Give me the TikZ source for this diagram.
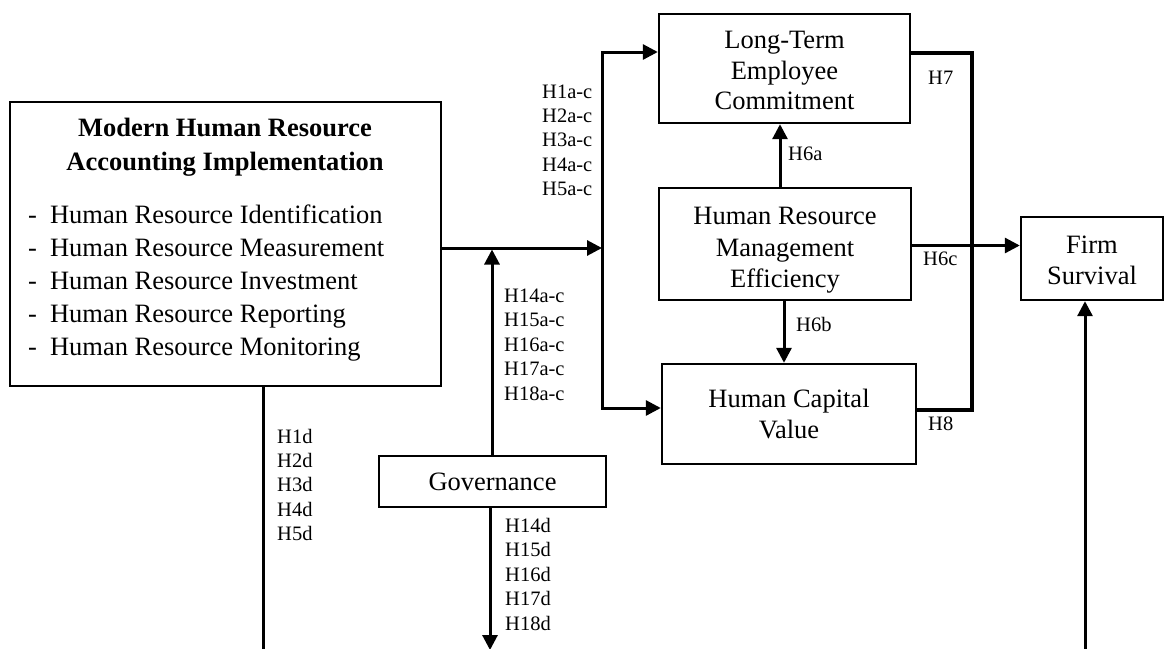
\documentclass[tikz,border=0pt]{standalone}
\usepackage{fontspec}
\setmainfont{Liberation Serif}
\usetikzlibrary{arrows.meta}
\begin{document}
\begin{tikzpicture}[x=1pt,y=-1pt,
  box/.style={draw, line width=2.4pt, inner sep=0pt, align=center,
    font=\fontsize{26.5}{31.5}\selectfont},
  conn/.style={line width=3pt},
  arr/.style={conn, -{Triangle[length=15pt,width=15pt]}},
  hlab/.style={anchor=west, inner sep=0pt, font=\fontsize{20.5}{24}\selectfont,
    text height=0.66em, text depth=0pt},
]
\useasboundingbox (0,0) rectangle (1164,648);

% ---- boxes ----
\node[box, minimum width=431pt, minimum height=284pt] (mhra) at (225.5,244) {};
\node[inner sep=0pt, align=center, font=\fontsize{26.5}{34}\selectfont\bfseries]
  (mhratitle) at (225,147.5) {Modern Human Resource\\Accounting Implementation};
\node[inner sep=0pt, anchor=west, font=\fontsize{26.5}{33}\selectfont]
  (mhralist) at (28,282.5) {%
  \begin{tabular}{@{}l@{\hspace{13pt}}l@{}}
  - & Human Resource Identification\\
  - & Human Resource Measurement\\
  - & Human Resource Investment\\
  - & Human Resource Reporting\\
  - & Human Resource Monitoring
  \end{tabular}};

\node[box, minimum width=251pt, minimum height=109pt, font=\fontsize{26.5}{30.5}\selectfont]
  (ltec) at (784.5,68.5) {\rule{0pt}{22pt}Long-Term\\Employee\\Commitment};
\node[box, minimum width=252pt, minimum height=112pt] (hrme) at (785,244)
  {\rule{0pt}{30pt}Human Resource\\Management\\Efficiency};
\node[box, minimum width=254pt, minimum height=100pt] (hcv) at (789,414)
  {Human Capital\\Value};
\node[box, minimum width=142pt, minimum height=83pt] (fs) at (1092,258.5)
  {\rule{0pt}{21pt}Firm\\Survival};
\node[box, minimum width=227pt, minimum height=51pt] (gov) at (492.5,481.5)
  {Governance};

% ---- junction points ----
\coordinate (j1) at (602,248);
\coordinate (jt) at (602,52);
\coordinate (jb) at (602,408);
\coordinate (xa) at (780,0);
\coordinate (xb) at (784,0);
\coordinate (yc) at (0,245.5);
\coordinate (rt) at (972,53);
\coordinate (rb) at (972,410);
\coordinate (mend) at (263,652);
\coordinate (gend) at (490,650);
\coordinate (fstart) at (1085,652);

% ---- connectors ----
\draw[arr] (mhra.east |- j1) -- (j1);
\draw[arr] (jb) -- (jt) -- (ltec.west |- jt);
\draw[arr] (jt) -- (jb) -- (hcv.west |- jb);
\draw[arr, shorten >=1.5pt] (gov.north -| 492,0) -- (j1 -| 492,0);
\draw[arr] (gov.south -| gend) -- (gend);
\draw[conn] (mhra.south -| mend) -- (mend);
\draw[arr] (hrme.north -| xa) -- (ltec.south -| xa);
\draw[arr] (hrme.south -| xb) -- (hcv.north -| xb);
\draw[arr] (hrme.east |- yc) -- (fs.west |- yc);
\draw[conn, line width=3.5pt, line join=miter] (ltec.east |- rt) -- (rt) -- (rb) -- (hcv.east |- rb);
\draw[arr] (fstart) -- (fs.south -| fstart);

% ---- hypothesis labels ----
\foreach \t [count=\i] in {H1a-c,H2a-c,H3a-c,H4a-c,H5a-c}
  \node[hlab] (la\i) at (542,{95+24.3*(\i-1)}) {\t};
\foreach \t [count=\i] in {H14a-c,H15a-c,H16a-c,H17a-c,H18a-c}
  \node[hlab] (lg\i) at (504,{299+24.5*(\i-1)}) {\t};
\foreach \t [count=\i] in {H1d,H2d,H3d,H4d,H5d}
  \node[hlab] (ld\i) at (277,{440+24.3*(\i-1)}) {\t};
\foreach \t [count=\i] in {H14d,H15d,H16d,H17d,H18d}
  \node[hlab] (lgd\i) at (505,{529+24.5*(\i-1)}) {\t};
\node[hlab] (l6a) at (788,157) {H6a};
\node[hlab] (l6b) at (796,328) {H6b};
\node[hlab] (l6c) at (923,262) {H6c};
\node[hlab] (l7) at (928,81) {H7};
\node[hlab] (l8) at (928,427) {H8};
\end{tikzpicture}
\end{document}
